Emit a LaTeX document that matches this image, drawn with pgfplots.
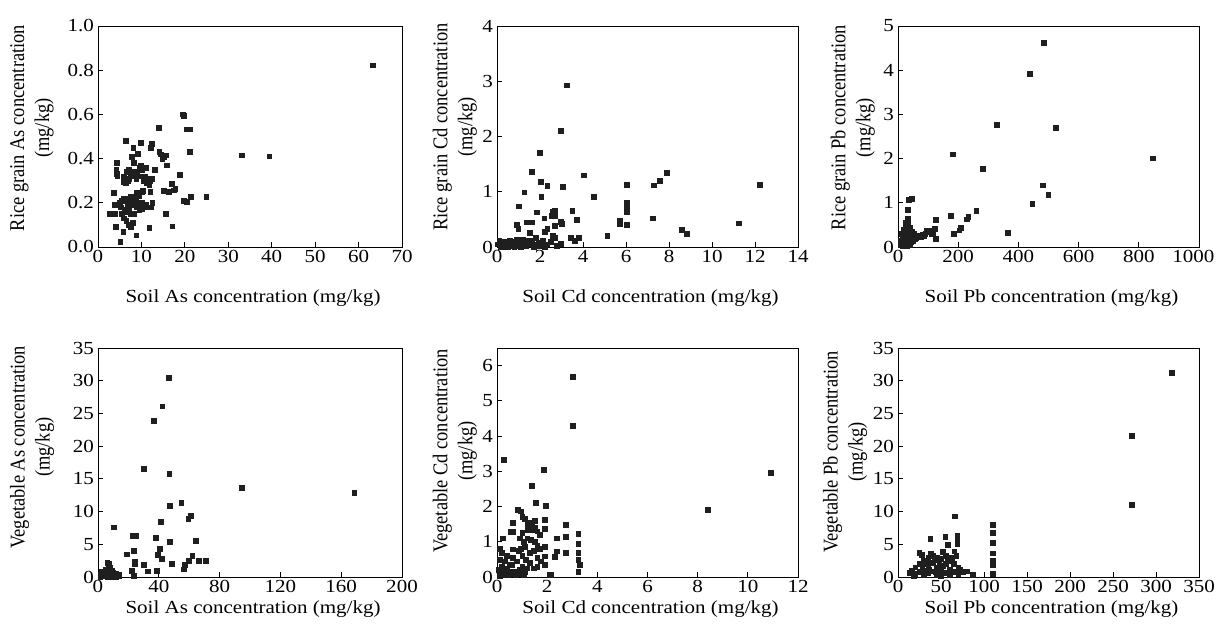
\documentclass[border=0pt]{standalone}
\usepackage{pgfplots}
\pgfplotsset{compat=1.18}
\usepackage{fontspec}
\setmainfont{Liberation Serif}
\pgfplotsset{
  myax/.style={
    scale only axis, anchor=south west,
    font=\fontsize{18.5}{22}\selectfont,
    axis line style={black, line width=0.8pt},
    tick align=inside, xtick pos=left, ytick pos=left,
    major tick length=5pt,
    tick style={black, line width=0.8pt},
    /pgf/number format/assume math mode=true,
    /pgf/number format/1000 sep={},
    scaled ticks=false,
    ticklabel style={font=\fontsize{18.5}{22}\selectfont, xscale=1.14},
    xlabel style={xscale=1.14},
    ylabel style={align=center, anchor=center, yscale=1.14},
    clip=false,
  },
  mk/.style={only marks, mark=square*, mark size=2.4pt, color=black!88, mark options={draw=black!88, fill=black!88}},
}
\begin{document}
\begin{tikzpicture}[x=1bp,y=1bp]
\useasboundingbox (0,0) rectangle (1216,628);

% Panel 1
\begin{axis}[myax, at={(98bp,381bp)}, width=304bp, height=221bp,
  xmin=0, xmax=70, ymin=0, ymax=1, xtick={0,10,...,70}, ytick={0,0.2,...,1.0},
  yticklabel style={/pgf/number format/.cd, fixed, fixed zerofill, precision=1},
  xlabel={Soil As concentration (mg/kg)},
  xlabel style={at={(axis description cs:0.51,0)}, anchor=base, yshift=-56bp},
  ylabel={Rice grain As concentration\\(mg/kg)},
  ylabel style={at={(axis description cs:-0.217,0.538)}}]
\addplot[mk] table[row sep=\\]{x y\\
63.3 0.823\\ 33.0 0.415\\ 39.4 0.411\\ 24.9 0.227\\ 19.5 0.601\\ 19.7 0.594\\ 20.4 0.533\\ 21.2 0.533\\
21.1 0.430\\ 21.4 0.227\\ 19.7 0.211\\ 20.4 0.204\\ 18.8 0.328\\ 13.9 0.538\\ 12.4 0.468\\ 12.1 0.450\\
9.8 0.471\\ 6.4 0.480\\ 8.1 0.450\\ 9.1 0.423\\ 7.8 0.408\\ 14.1 0.430\\ 14.5 0.420\\ 15.1 0.410\\
15.7 0.415\\ 14.8 0.400\\ 15.9 0.370\\ 17.0 0.287\\ 16.2 0.249\\ 17.4 0.257\\ 17.8 0.264\\ 15.1 0.254\\
15.5 0.151\\ 17.1 0.094\\ 11.8 0.088\\ 8.8 0.053\\ 5.1 0.023\\ 4.3 0.382\\ 4.2 0.350\\ 4.3 0.330\\
4.4 0.320\\ 3.7 0.245\\ 2.6 0.151\\ 3.8 0.151\\ 4.1 0.091\\ 3.8 0.193\\ 5.8 0.295\\ 6.5 0.340\\
7.0 0.350\\ 7.5 0.330\\ 8.0 0.320\\ 8.5 0.340\\ 9.0 0.330\\ 9.5 0.360\\ 10.0 0.350\\ 10.5 0.300\\
11.0 0.360\\ 11.5 0.310\\ 12.0 0.300\\ 12.5 0.310\\ 11.8 0.280\\ 12.0 0.250\\ 13.0 0.350\\ 7.2 0.310\\
8.3 0.380\\ 6.0 0.320\\ 9.8 0.370\\ 10.8 0.320\\ 11.3 0.290\\ 5.0 0.200\\ 5.5 0.210\\ 6.0 0.220\\
6.5 0.210\\ 7.0 0.220\\ 7.5 0.230\\ 8.0 0.230\\ 8.5 0.220\\ 9.0 0.240\\ 9.5 0.230\\ 10.0 0.200\\
10.5 0.190\\ 11.0 0.190\\ 11.5 0.180\\ 12.5 0.200\\ 12.2 0.180\\ 6.2 0.170\\ 6.8 0.160\\ 7.5 0.150\\
8.2 0.150\\ 9.0 0.180\\ 9.5 0.170\\ 8.0 0.190\\ 5.5 0.150\\ 6.0 0.130\\ 6.5 0.120\\ 7.0 0.100\\
7.5 0.090\\ 8.0 0.110\\ 5.8 0.070\\ 10.2 0.250\\ 9.3 0.200\\ 8.7 0.210\\ 4.5 0.190\\ 5.2 0.180\\
6.8 0.190\\ 7.2 0.175\\ 10.0 0.175\\ 9.0 0.245\\ 10.3 0.255\\ 6.3 0.290\\ 6.8 0.300\\ 7.8 0.340\\
8.8 0.310\\ 9.6 0.320\\
};
\end{axis}

% Panel 2
\begin{axis}[myax, at={(497bp,381bp)}, width=301bp, height=221bp,
  xmin=0, xmax=14, ymin=0, ymax=4, xtick={0,2,...,14}, ytick={0,1,...,4},
  xlabel={Soil Cd concentration (mg/kg)},
  xlabel style={at={(axis description cs:0.51,0)}, anchor=base, yshift=-56bp},
  ylabel={Rice grain Cd concentration\\(mg/kg)},
  ylabel style={at={(axis description cs:-0.14,0.543)}}]
\addplot[mk] table[row sep=\\]{x y\\
3.24 2.93\\ 2.98 2.10\\ 1.98 1.70\\ 1.61 1.36\\ 4.03 1.30\\ 7.88 1.34\\ 7.57 1.20\\ 7.29 1.12\\
6.03 1.13\\ 12.2 1.13\\ 2.03 1.18\\ 2.33 1.11\\ 3.04 1.09\\ 1.26 0.99\\ 2.06 0.91\\ 4.48 0.91\\
1.02 0.74\\ 6.03 0.81\\ 6.03 0.75\\ 6.03 0.64\\ 3.50 0.66\\ 1.83 0.63\\ 2.60 0.64\\ 2.70 0.65\\
2.55 0.57\\ 2.68 0.57\\ 2.19 0.52\\ 3.70 0.50\\ 7.24 0.52\\ 5.69 0.48\\ 5.70 0.42\\ 6.03 0.40\\
11.24 0.43\\ 8.59 0.31\\ 8.84 0.24\\ 5.12 0.20\\ 1.36 0.45\\ 1.60 0.45\\ 0.90 0.40\\ 0.99 0.33\\
2.98 0.46\\ 3.00 0.42\\ 2.70 0.38\\ 1.52 0.26\\ 2.33 0.33\\ 2.20 0.28\\ 2.60 0.20\\ 2.68 0.17\\
3.41 0.17\\ 3.63 0.11\\ 3.80 0.17\\ 2.96 0.06\\ 2.76 0.02\\ 1.95 0.08\\ 2.14 0.12\\ 1.80 0.17\\
1.60 0.12\\ 0.05 0.05\\ 0.15 0.08\\ 0.25 0.03\\ 0.35 0.06\\ 0.45 0.02\\ 0.55 0.07\\ 0.65 0.04\\
0.75 0.09\\ 0.85 0.03\\ 0.95 0.06\\ 1.05 0.02\\ 1.15 0.10\\ 1.25 0.05\\ 1.35 0.03\\ 1.45 0.08\\
1.55 0.05\\ 1.70 0.04\\ 1.85 0.02\\ 0.10 0.12\\ 0.30 0.10\\ 0.60 0.11\\ 0.90 0.13\\ 1.20 0.14\\
1.40 0.12\\ 0.20 0.01\\ 0.50 0.00\\ 0.80 0.00\\ 1.10 0.00\\ 1.70 0.00\\ 2.00 0.02\\ 2.30 0.05\\
2.50 0.10\\ 0.15 0.00\\ 0.40 0.04\\ 0.70 0.015\\ 1.00 0.08\\ 2.20 0.00\\
};
\end{axis}

% Panel 3
\begin{axis}[myax, at={(898bp,381bp)}, width=301bp, height=221bp,
  xmin=0, xmax=1000, ymin=0, ymax=5, xtick={0,200,...,1000}, ytick={0,1,...,5},
  xticklabels={0,200,400,600,800,{\hspace*{-10bp}1000}},
  xlabel={Soil Pb concentration (mg/kg)},
  xlabel style={at={(axis description cs:0.51,0)}, anchor=base, yshift=-56bp},
  ylabel={Rice grain Pb concentration\\(mg/kg)},
  ylabel style={at={(axis description cs:-0.15,0.54)}}]
\addplot[mk] table[row sep=\\]{x y\\
483 4.62\\ 438 3.92\\ 329 2.76\\ 523 2.70\\ 181 2.10\\ 282 1.78\\ 846 2.01\\ 480 1.40\\
499 1.19\\ 446 0.98\\ 364 0.32\\ 260 0.82\\ 233 0.68\\ 229 0.63\\ 175 0.70\\ 207 0.43\\
203 0.38\\ 185 0.30\\ 126 0.62\\ 122 0.42\\ 124 0.18\\ 35 1.07\\ 46 1.10\\ 33 0.85\\
33 0.64\\ 33 0.57\\ 28 0.50\\ 25 0.45\\ 30 0.40\\ 20 0.35\\ 22 0.30\\ 35 0.32\\
40 0.28\\ 15 0.25\\ 18 0.20\\ 25 0.22\\ 30 0.18\\ 38 0.20\\ 45 0.22\\ 50 0.25\\
10 0.15\\ 12 0.10\\ 20 0.12\\ 28 0.08\\ 35 0.10\\ 42 0.12\\ 48 0.15\\ 8 0.05\\
15 0.03\\ 22 0.05\\ 30 0.02\\ 40 0.04\\ 55 0.18\\ 60 0.20\\ 70 0.25\\ 80 0.28\\
90 0.30\\ 100 0.34\\ 105 0.37\\ 110 0.30\\ 115 0.33\\ 95 0.36\\ 85 0.26\\ 75 0.22\\
65 0.23\\ 52 0.30\\ 45 0.35\\ 38 0.45\\ 26 0.55\\ 32 0.48\\ 18 0.40\\ 24 0.38\\ 12 0.30\\
};
\end{axis}

% Panel 4
\begin{axis}[myax, at={(98bp,51bp)}, width=304bp, height=229bp,
  xmin=0, xmax=200, ymin=0, ymax=35, xtick={0,40,...,200}, ytick={0,5,...,35},
  xlabel={Soil As concentration (mg/kg)},
  xlabel style={at={(axis description cs:0.51,0)}, anchor=base, yshift=-37bp},
  ylabel={Vegetable As concentration\\(mg/kg)},
  ylabel style={at={(axis description cs:-0.217,0.567)}}]
\addplot[mk] table[row sep=\\]{x y\\
46.5 30.4\\ 42.2 26.1\\ 36.4 23.9\\ 30.3 16.6\\ 46.8 15.8\\ 94.6 13.7\\ 168.6 12.9\\ 54.7 11.4\\
47.0 10.9\\ 61.0 9.4\\ 59.3 8.9\\ 41.5 8.5\\ 10.3 7.6\\ 22.8 6.3\\ 24.8 6.3\\ 38.0 6.0\\
64.3 5.5\\ 47.0 5.35\\ 23.7 4.0\\ 40.6 4.3\\ 18.9 3.5\\ 39.5 3.4\\ 41.9 2.75\\ 61.9 3.3\\
59.9 2.45\\ 23.9 2.35\\ 23.9 1.95\\ 30.3 1.85\\ 48.7 2.05\\ 56.9 1.9\\ 56.4 1.2\\ 66.5 2.5\\
70.7 2.5\\ 22.2 0.97\\ 32.5 0.87\\ 38.6 0.92\\ 23.5 0.2\\ 6.1 2.2\\ 7.0 2.0\\ 8.0 1.5\\
5.0 1.2\\ 9.0 1.0\\ 4.0 0.8\\ 3.0 0.5\\ 2.0 0.3\\ 5.5 0.6\\ 7.5 0.4\\ 10.0 0.6\\
11.0 0.3\\ 12.0 0.5\\ 13.5 0.2\\ 6.5 0.1\\ 8.5 0.2\\ 1.5 0.1\\ 3.5 0.2\\ 4.5 0.15\\
9.5 0.05\\ 11.5 0.0\\ 14.0 0.4\\ 2.5 0.9\\ 6.0 1.0\\
};
\end{axis}

% Panel 5
\begin{axis}[myax, at={(497bp,51bp)}, width=301bp, height=229bp,
  xmin=0, xmax=12, ymin=0, ymax=6.5, xtick={0,2,...,12}, ytick={0,1,...,6},
  xlabel={Soil Cd concentration (mg/kg)},
  xlabel style={at={(axis description cs:0.51,0)}, anchor=base, yshift=-37bp},
  ylabel={Vegetable Cd concentration\\(mg/kg)},
  ylabel style={at={(axis description cs:-0.14,0.55)}}]
\addplot[mk] table[row sep=\\]{x y\\
3.03 5.68\\ 3.03 4.30\\ 0.27 3.32\\ 1.87 3.05\\ 10.91 2.95\\ 1.37 2.59\\ 1.54 2.11\\ 1.93 2.03\\
8.40 1.90\\ 0.84 1.91\\ 0.93 1.87\\ 2.75 1.49\\ 3.24 1.23\\ 3.24 0.95\\ 3.24 0.68\\ 3.24 0.49\\
3.30 0.35\\ 3.24 0.15\\ 2.75 1.14\\ 2.75 0.70\\ 2.38 1.10\\ 2.38 0.73\\ 2.31 0.58\\ 1.91 1.63\\
1.91 1.37\\ 1.91 0.87\\ 1.91 0.59\\ 1.91 0.36\\ 2.13 0.07\\ 2.10 0.07\\ 0.24 1.10\\ 0.64 1.55\\
0.61 1.28\\ 0.55 1.28\\ 0.64 0.79\\ 0.64 0.54\\ 1.0 1.72\\ 1.1 1.65\\ 1.2 1.50\\ 1.3 1.55\\
1.4 1.45\\ 1.5 1.40\\ 1.6 1.30\\ 1.7 1.20\\ 1.5 1.60\\ 1.4 1.35\\ 1.2 1.35\\ 1.0 1.25\\
0.9 1.10\\ 1.05 1.00\\ 1.2 1.10\\ 1.35 1.05\\ 1.5 1.00\\ 1.6 0.90\\ 1.7 0.80\\ 1.45 0.75\\
1.3 0.70\\ 1.1 0.85\\ 0.95 0.80\\ 0.85 0.75\\ 1.0 0.60\\ 1.15 0.50\\ 1.3 0.40\\ 1.45 0.25\\
1.6 0.30\\ 1.2 0.25\\ 1.0 0.30\\ 0.9 0.20\\ 0.7 0.15\\ 0.5 0.10\\ 0.3 0.05\\ 0.1 0.02\\
0.2 0.30\\ 0.1 0.50\\ 0.1 0.80\\ 0.2 0.70\\ 0.3 0.45\\ 0.4 0.25\\ 0.6 0.35\\ 0.8 0.45\\
0.05 0.20\\ 0.15 0.15\\ 0.25 0.10\\ 0.35 0.20\\ 0.45 0.05\\ 0.55 0.15\\ 0.75 0.05\\ 0.85 0.10\\
1.05 0.05\\ 1.1 0.15\\ 0.4 0.60\\ 0.5 0.35\\ 1.6 0.55\\ 1.75 0.45\\
};
\end{axis}

% Panel 6
\begin{axis}[myax, at={(898bp,51bp)}, width=301bp, height=229bp,
  xmin=0, xmax=350, ymin=0, ymax=35, xtick={0,50,...,350}, ytick={0,5,...,35},
  xlabel={Soil Pb concentration (mg/kg)},
  xlabel style={at={(axis description cs:0.51,0)}, anchor=base, yshift=-37bp},
  ylabel={Vegetable Pb concentration\\(mg/kg)},
  ylabel style={at={(axis description cs:-0.176,0.546)}}]
\addplot[mk] table[row sep=\\]{x y\\
318 31.2\\ 272 21.6\\ 272 11.1\\ 65.7 9.3\\ 109.8 8.0\\ 109.8 6.75\\ 109.8 5.2\\ 109.8 3.65\\
109.8 2.55\\ 109.8 1.9\\ 109.8 0.5\\ 68.8 6.3\\ 68.8 5.6\\ 68.8 5.0\\ 65.4 3.95\\ 67.7 3.3\\
54.9 6.1\\ 58.0 4.9\\ 37.5 5.8\\ 51.8 3.85\\ 24.7 3.75\\ 27.8 3.35\\ 80.4 0.9\\ 86.6 0.4\\
13.1 0.7\\ 15.5 1.0\\ 20 1.5\\ 25 2.0\\ 30 2.5\\ 35 3.0\\ 40 3.3\\ 45 3.0\\
50 2.8\\ 55 3.2\\ 60 2.5\\ 65 2.0\\ 70 1.5\\ 30 1.0\\ 35 1.8\\ 40 2.2\\
45 1.5\\ 50 1.0\\ 55 2.0\\ 60 1.2\\ 65 0.8\\ 70 0.5\\ 20 0.5\\ 25 0.8\\
30 0.3\\ 35 0.6\\ 40 0.9\\ 45 0.4\\ 50 0.2\\ 55 0.6\\ 60 0.3\\ 38 3.6\\
42 2.6\\ 33 2.0\\ 28 1.6\\ 48 2.2\\ 52 1.7\\ 58 2.4\\ 62 3.0\\ 18 0.2\\
75 0.8\\ 72 1.2\\ 36 1.2\\ 44 0.8\\
};
\end{axis}
\end{tikzpicture}
\end{document}
